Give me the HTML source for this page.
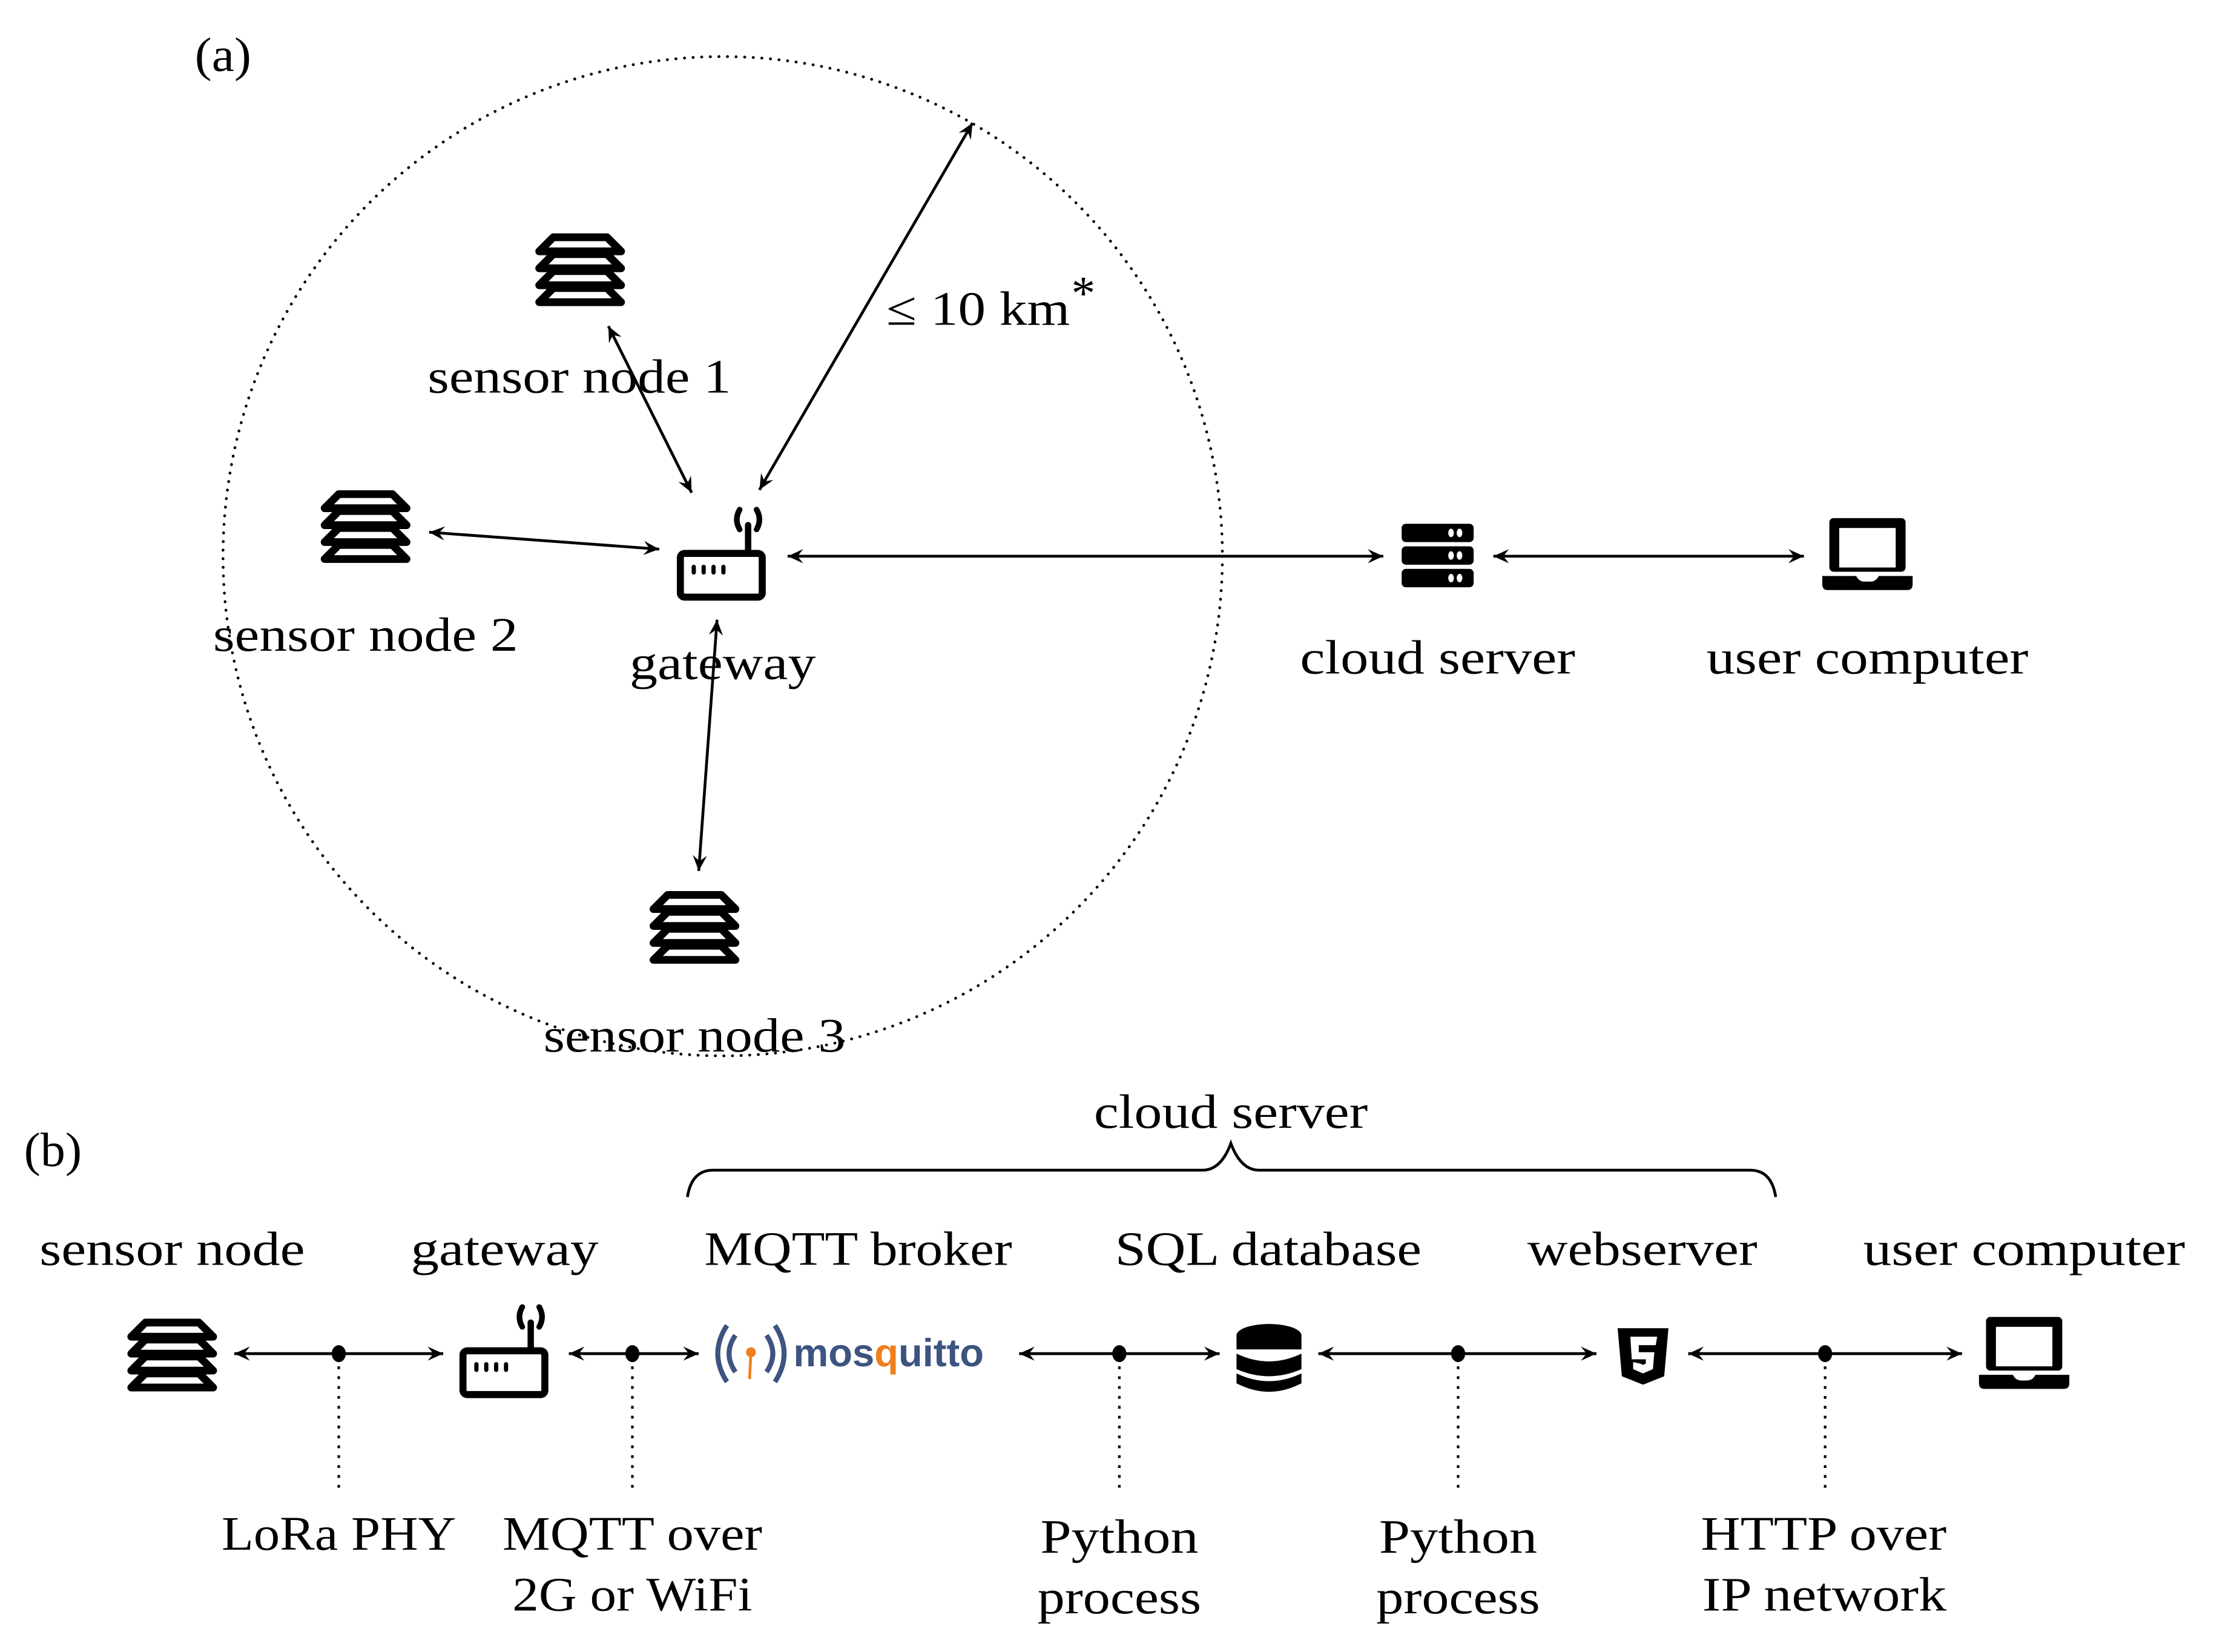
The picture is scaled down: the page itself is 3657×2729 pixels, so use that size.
<!DOCTYPE html>
<html><head><meta charset="utf-8"><style>
html,body{margin:0;padding:0;background:#fff;}
svg{display:block;}
text{font-family:"Liberation Serif",serif;font-size:34px;fill:#000;}
</style></head><body>
<svg width="3657" height="2729" viewBox="0 0 1568.5 1170.3" xmlns="http://www.w3.org/2000/svg">
<defs>
<marker id="ah" viewBox="-12 -6 14 12" markerWidth="14" markerHeight="12" refX="0" refY="0" orient="auto-start-reverse" markerUnits="userSpaceOnUse">
<path d="M0,0 L-11,-5 L-7,0 L-11,5 Z" fill="#000"/>
</marker>
<g id="sensor">
<g fill="none" stroke="#000" stroke-width="5.5" stroke-linejoin="round" stroke-linecap="round">
<path d="M-19,-23 L19,-23 L29,-13 L-29,-13 Z"/>
<path d="M-19,-11 L19,-11 L29,-1 L-29,-1 Z"/>
<path d="M-19,1 L19,1 L29,11 L-29,11 Z"/>
<path d="M-19,13 L19,13 L29,23 L-29,23 Z"/>
</g>
</g>
<g id="gw">
<rect x="-28" y="-5" width="58" height="31" rx="3" fill="none" stroke="#000" stroke-width="5"/>
<line x1="20" y1="-6" x2="20" y2="-25" stroke="#000" stroke-width="4.5" stroke-linecap="round"/>
<path d="M14,-36 Q10,-29 14,-22" fill="none" stroke="#000" stroke-width="4" stroke-linecap="round"/>
<path d="M26,-36 Q30,-29 26,-22" fill="none" stroke="#000" stroke-width="4" stroke-linecap="round"/>
<g fill="#000"><rect x="-20" y="3" width="3" height="7" rx="1.5"/><rect x="-13" y="3" width="3" height="7" rx="1.5"/><rect x="-6" y="3" width="3" height="7" rx="1.5"/><rect x="1" y="3" width="3" height="7" rx="1.5"/></g>
</g>
<g id="laptop">
<rect x="-27" y="-25" width="54" height="38" rx="3" fill="#000"/>
<rect x="-20" y="-18" width="40" height="28" fill="#fff"/>
<path d="M-32,16 L-8,16 Q-6,20 -2,20 L2,20 Q6,20 8,16 L32,16 L32,22 Q32,26 28,26 L-28,26 Q-32,26 -32,22 Z" fill="#000"/>
</g>
<g id="server">
<rect x="-26" y="-22" width="51" height="13" rx="3" fill="#000"/>
<rect x="-26" y="-6" width="51" height="13" rx="3" fill="#000"/>
<rect x="-26" y="10" width="51" height="13" rx="3" fill="#000"/>
<g fill="#fff"><ellipse cx="9" cy="-15.5" rx="2" ry="3"/><ellipse cx="15" cy="-15.5" rx="2" ry="3"/><ellipse cx="9" cy="0.5" rx="2" ry="3"/><ellipse cx="15" cy="0.5" rx="2" ry="3"/><ellipse cx="9" cy="16.5" rx="2" ry="3"/><ellipse cx="15" cy="16.5" rx="2" ry="3"/></g>
</g>
</defs>

<!-- (a) -->
<text x="138" y="50" textLength="40" lengthAdjust="spacingAndGlyphs">(a)</text>
<circle cx="512" cy="394" r="354" fill="none" stroke="#000" stroke-width="2" stroke-dasharray="0.1 6" stroke-linecap="round"/>

<use href="#sensor" x="411" y="191"/>
<use href="#sensor" x="259" y="373"/>
<use href="#sensor" x="492" y="657"/>
<use href="#gw" x="510" y="397"/>
<use href="#server" x="1019" y="393"/>
<use href="#laptop" x="1323" y="392"/>

<g stroke="#000" stroke-width="2" fill="none">
<line x1="431" y1="231" x2="490" y2="349" marker-start="url(#ah)" marker-end="url(#ah)"/>
<line x1="304" y1="377" x2="467" y2="389" marker-start="url(#ah)" marker-end="url(#ah)"/>
<line x1="508" y1="439" x2="495" y2="617" marker-start="url(#ah)" marker-end="url(#ah)"/>
<line x1="538" y1="347" x2="689" y2="87" marker-start="url(#ah)" marker-end="url(#ah)"/>
<line x1="558" y1="394" x2="980" y2="394" marker-start="url(#ah)" marker-end="url(#ah)"/>
<line x1="1058" y1="394" x2="1278" y2="394" marker-start="url(#ah)" marker-end="url(#ah)"/>
</g>

<text x="303" y="278" textLength="215" lengthAdjust="spacingAndGlyphs">sensor node 1</text>
<text x="628" y="230" textLength="130" lengthAdjust="spacingAndGlyphs">≤ 10 km</text>
<text x="759" y="219" font-size="22">*</text>
<text x="151" y="461" textLength="216" lengthAdjust="spacingAndGlyphs">sensor node 2</text>
<text x="446" y="481" textLength="132" lengthAdjust="spacingAndGlyphs">gateway</text>
<text x="921" y="477" textLength="195" lengthAdjust="spacingAndGlyphs">cloud server</text>
<text x="1209" y="477" textLength="228" lengthAdjust="spacingAndGlyphs">user computer</text>
<text x="385" y="745" textLength="214" lengthAdjust="spacingAndGlyphs">sensor node 3</text>

<!-- (b) -->
<text x="17" y="826" textLength="41" lengthAdjust="spacingAndGlyphs">(b)</text>
<text x="775" y="799" textLength="194" lengthAdjust="spacingAndGlyphs">cloud server</text>
<path d="M487,848 Q490,829 505,829 L852,829 Q865,829 872,810 Q879,829 892,829 L1240,829 Q1255,829 1258,848" fill="none" stroke="#000" stroke-width="2"/>

<text x="28" y="896" textLength="188" lengthAdjust="spacingAndGlyphs">sensor node</text>
<text x="291" y="896" textLength="133" lengthAdjust="spacingAndGlyphs">gateway</text>
<text x="499" y="896" textLength="218" lengthAdjust="spacingAndGlyphs">MQTT broker</text>
<text x="790" y="896" textLength="217" lengthAdjust="spacingAndGlyphs">SQL database</text>
<text x="1082" y="896" textLength="163" lengthAdjust="spacingAndGlyphs">webserver</text>
<text x="1320" y="896" textLength="228" lengthAdjust="spacingAndGlyphs">user computer</text>

<use href="#sensor" x="122" y="960"/>
<use href="#gw" x="356" y="962"/>
<use href="#laptop" x="1434" y="958"/>

<!-- mosquitto -->
<g>
<g fill="none" stroke="#3d5380" stroke-width="3.5">
<path d="M521,946 Q512,959 521,972"/>
<path d="M515,939 Q502,959 515,979"/>
<path d="M543,946 Q552,959 543,972"/>
<path d="M549,939 Q562,959 549,979"/>
</g>
<circle cx="532" cy="958" r="3.5" fill="#f07f1d"/>
<line x1="532" y1="958" x2="531" y2="977" stroke="#f07f1d" stroke-width="2"/>
<text x="562" y="968" textLength="135" lengthAdjust="spacingAndGlyphs" style="font-family:'Liberation Sans',sans-serif;font-weight:bold;font-size:28px;fill:#3d5380;">mos<tspan fill="#f07f1d">q</tspan>uitto</text>
</g>

<!-- database -->
<g>
<ellipse cx="899" cy="946" rx="23" ry="8" fill="#000"/>
<rect x="876" y="946" width="46" height="10" fill="#000"/>
<path d="M876,959 Q899,970 922,959 L922,970 Q899,980 876,970 Z" fill="#000"/>
<path d="M876,973 Q899,984 922,973 L922,980 Q899,992 876,980 Z" fill="#000"/>
</g>

<!-- html5 -->
<g>
<path d="M1146,941 L1182,941 L1179,975 L1164,981 L1149,975 Z" fill="#000"/>
<path d="M1155,947 L1174,947 L1173,953 L1161,953 L1161,958 L1172,958 L1171,970 L1164,973 L1157,970 L1157,965 L1162,966 L1164,967 L1166,966 L1166,963 L1156,963 Z" fill="#fff"/>
</g>

<g stroke="#000" stroke-width="2" fill="none">
<line x1="166" y1="959" x2="314" y2="959" marker-start="url(#ah)" marker-end="url(#ah)"/>
<line x1="403" y1="959" x2="495" y2="959" marker-start="url(#ah)" marker-end="url(#ah)"/>
<line x1="722" y1="959" x2="864" y2="959" marker-start="url(#ah)" marker-end="url(#ah)"/>
<line x1="934" y1="959" x2="1131" y2="959" marker-start="url(#ah)" marker-end="url(#ah)"/>
<line x1="1196" y1="959" x2="1390" y2="959" marker-start="url(#ah)" marker-end="url(#ah)"/>
</g>
<g fill="#000">
<ellipse cx="240" cy="959" rx="5" ry="6"/>
<ellipse cx="448" cy="959" rx="5" ry="6"/>
<ellipse cx="793" cy="959" rx="5" ry="6"/>
<ellipse cx="1033" cy="959" rx="5" ry="6"/>
<ellipse cx="1293" cy="959" rx="5" ry="6"/>
</g>
<g stroke="#000" stroke-width="1.8" stroke-dasharray="2 5">
<line x1="240" y1="968" x2="240" y2="1056"/>
<line x1="448" y1="968" x2="448" y2="1056"/>
<line x1="793" y1="968" x2="793" y2="1056"/>
<line x1="1033" y1="968" x2="1033" y2="1056"/>
<line x1="1293" y1="968" x2="1293" y2="1056"/>
</g>

<text x="157" y="1098" textLength="166" lengthAdjust="spacingAndGlyphs">LoRa PHY</text>
<text x="356" y="1098" textLength="184" lengthAdjust="spacingAndGlyphs">MQTT over</text>
<text x="363" y="1141" textLength="170" lengthAdjust="spacingAndGlyphs">2G or WiFi</text>
<text x="737" y="1100" textLength="112" lengthAdjust="spacingAndGlyphs">Python</text>
<text x="735" y="1143" textLength="116" lengthAdjust="spacingAndGlyphs">process</text>
<text x="977" y="1100" textLength="112" lengthAdjust="spacingAndGlyphs">Python</text>
<text x="975" y="1143" textLength="116" lengthAdjust="spacingAndGlyphs">process</text>
<text x="1205" y="1098" textLength="174" lengthAdjust="spacingAndGlyphs">HTTP over</text>
<text x="1206" y="1141" textLength="173" lengthAdjust="spacingAndGlyphs">IP network</text>
</svg>
</body></html>
